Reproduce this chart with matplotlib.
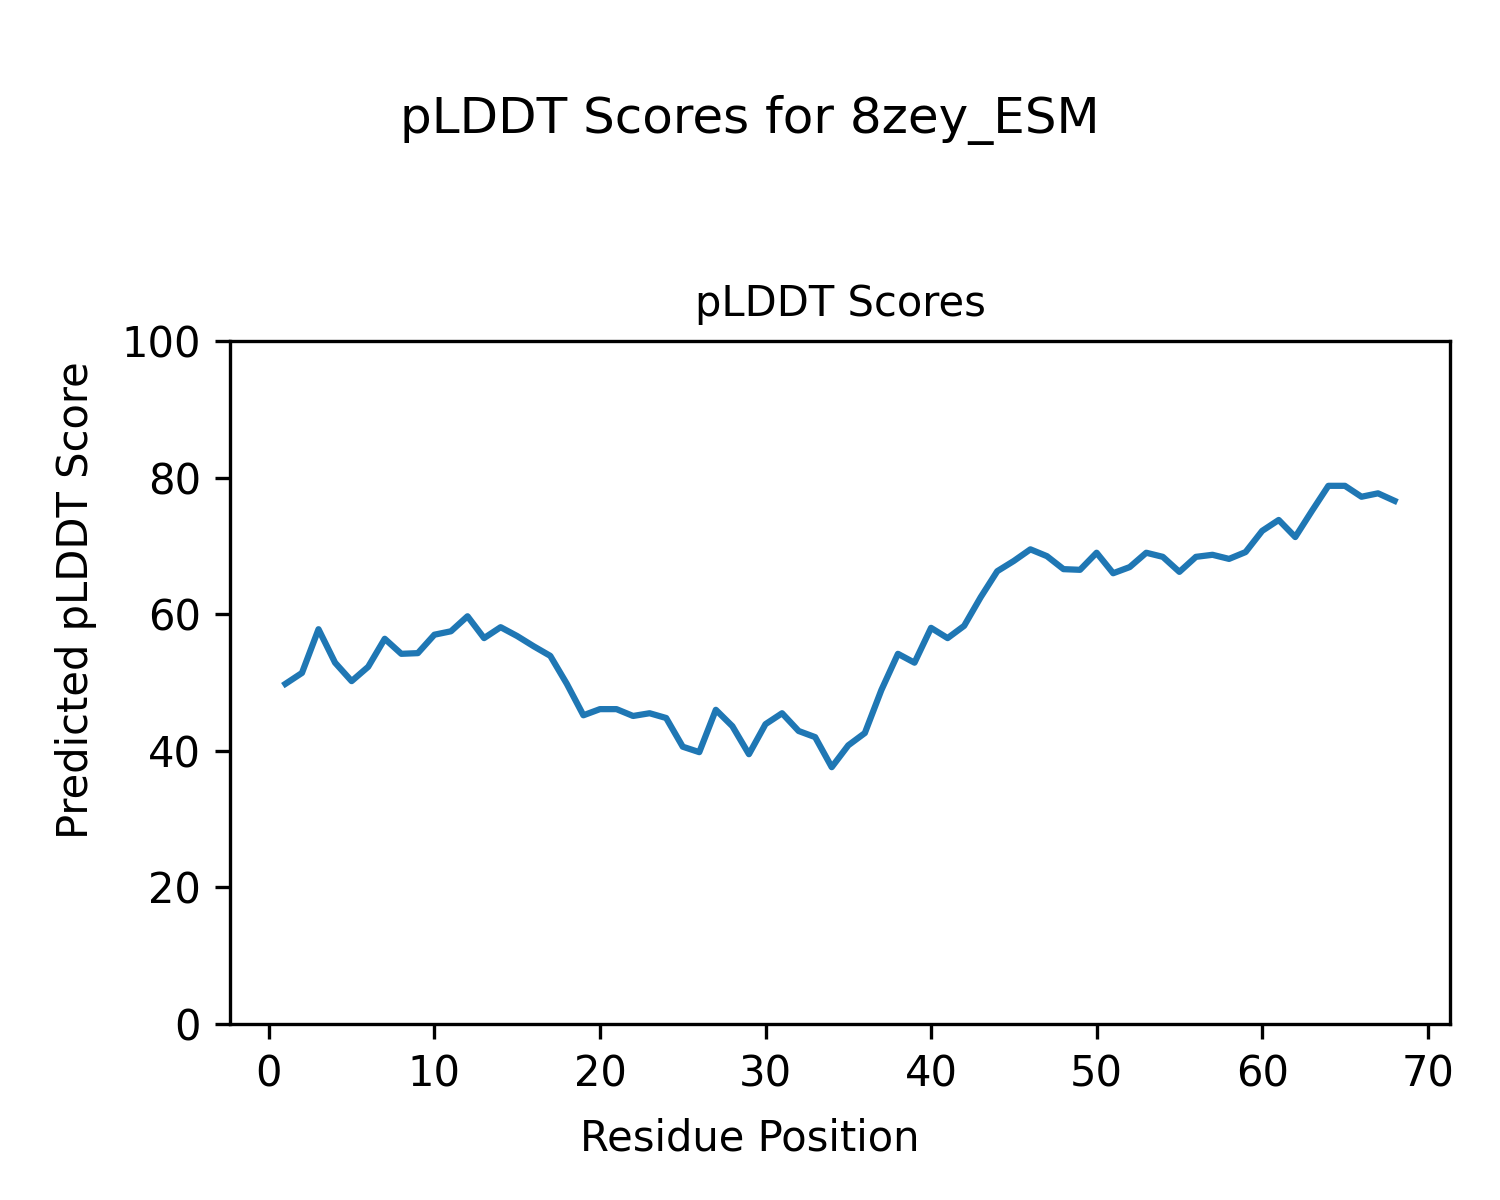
import matplotlib
matplotlib.use("Agg")
import matplotlib.pyplot as plt

residues = list(range(1, 69))
plddt = [49.8, 51.4, 57.8, 52.9, 50.2, 52.3, 56.4, 54.2, 54.3, 57.0,
         57.5, 59.7, 56.5, 58.1, 56.8, 55.3, 53.9, 49.8, 45.2, 46.1,
         46.1, 45.1, 45.5, 44.8, 40.6, 39.8, 46.0, 43.6, 39.5, 43.9,
         45.5, 42.9, 42.0, 37.6, 40.8, 42.6, 48.9, 54.2, 52.9, 58.0,
         56.5, 58.3, 62.5, 66.3, 67.8, 69.5, 68.5, 66.6, 66.5, 69.0,
         66.0, 66.9, 69.0, 68.4, 66.2, 68.4, 68.7, 68.1, 69.1, 72.2,
         73.8, 71.3, 75.1, 78.8, 78.8, 77.2, 77.7, 76.6]

fig = plt.figure(figsize=(5, 4), dpi=300)
ax = fig.add_axes([0.1533, 0.1467, 0.8134, 0.5691])
ax.plot(residues, plddt, color="#1f77b4", linewidth=1.5)
ax.set_ylim(0, 100)
ax.set_title("pLDDT Scores", fontsize=10)
ax.tick_params(labelsize=10)
fig.text(0.5, 0.051, "Residue Position", fontsize=10, ha="center", va="center")
fig.text(0.051, 0.5, "Predicted pLDDT Score", fontsize=10, ha="center", va="center", rotation=90)
fig.suptitle("pLDDT Scores for 8zey_ESM", fontsize=12, y=0.921)
fig.savefig("out.png", dpi=300)
